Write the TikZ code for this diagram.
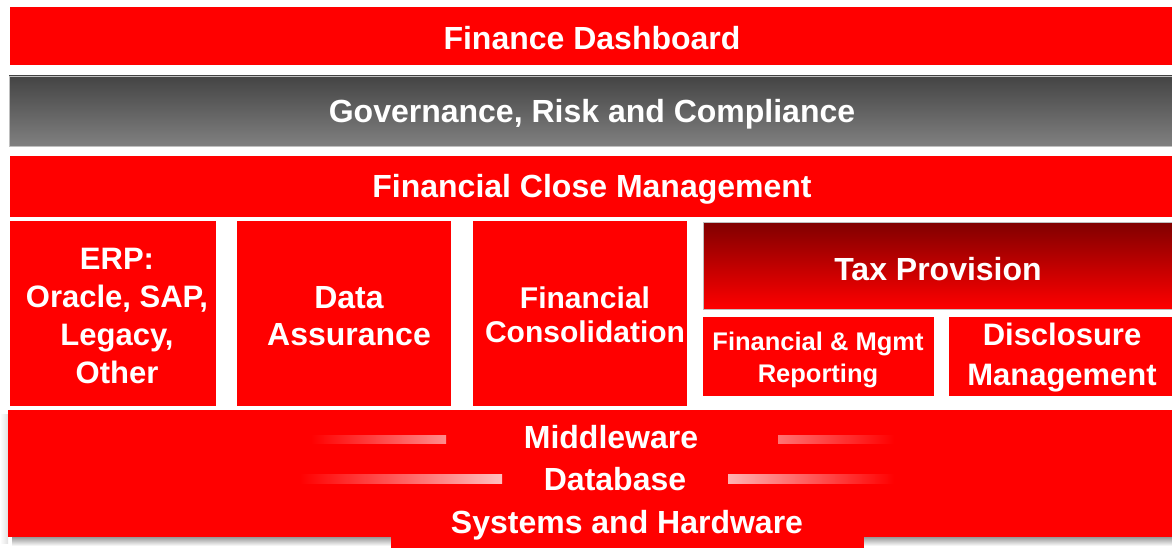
\documentclass[tikz,border=0pt]{standalone}
\usepackage{fontspec}
\setmainfont{Liberation Sans}
\definecolor{darkred}{RGB}{128,0,0}
\definecolor{midred}{RGB}{205,0,0}
\definecolor{grctop}{RGB}{68,68,68}
\definecolor{grcbot}{RGB}{128,128,128}
\tikzset{
  label/.style={font=\fontsize{32}{37}\selectfont\bfseries, text=white, align=center, inner sep=0pt},
  smalllabel/.style={label, font=\fontsize{25.5}{32}\selectfont\bfseries},
  bar/.style={fill=red}
}
\begin{document}
\begin{tikzpicture}[x=1pt,y=-1pt]
    \useasboundingbox (0,0) rectangle (1172,548);
    % top bands
    \fill[bar] (10,7) rectangle (1172,65);
    \shade[top color=grctop, bottom color=grcbot, draw=gray!50] (9,76) rectangle (1172,146);
    \fill[bar] (10,156) rectangle (1172,217);

    % middle row
    \fill[bar] (10,221) rectangle (216,406);
    \fill[bar] (237,221) rectangle (451,406);
    \fill[bar] (473,221) rectangle (687,406);
    \shade[top color=darkred, middle color=midred, bottom color=red, draw=gray!50] (703,222) rectangle (1172,309);
    \fill[bar] (703,317) rectangle (934,396);
    \fill[bar] (949,317) rectangle (1172,396);

    % bottom block with shadow
    \shade[left color=white, right color=black!12] (0,414) rectangle (8,543);
    \shade[top color=black!40, bottom color=white] (12,537) rectangle (1172,546);
    \fill[bar] (8,410) rectangle (1172,537);
    \fill[bar] (391,537) rectangle (864,548);
    \shade[left color=red, right color=red!45!white] (311,435) rectangle (446,443);
    \shade[left color=red!55!white, right color=red] (778,435) rectangle (894,443);
    \shade[left color=red, right color=red!25!white] (300,474) rectangle (502,483);
    \shade[left color=red!30!white, right color=red] (728,474) rectangle (894,483);

    % labels
    \node[label] (dash) at (592,38) {Finance Dashboard};
    \node[label] (grc) at (592,114) {Governance, Risk and Compliance};
    \node[label] (fcm) at (592,189) {Financial Close Management};
    \node[label, font=\fontsize{31}{38}\selectfont\bfseries] (erp) at (117,316) {ERP:\\Oracle, SAP,\\Legacy,\\Other};
    \node[label] (assure) at (349,316) {Data\\Assurance};
    \node[label, font=\fontsize{30}{34}\selectfont\bfseries] (consol) at (585,315) {Financial\\Consolidation};
    \node[label] (tax) at (938,269) {Tax Provision};
    \node[smalllabel] (report) at (818,360) {Financial \& Mgmt\\Reporting};
    \node[label, font=\fontsize{31}{40}\selectfont\bfseries] (disclose) at (1062,358) {Disclosure\\Management};
    \node[label] (middle) at (611,437) {Middleware};
    \node[label] (dbase) at (615,479) {Database};
    \node[label] (hw) at (627,525) {Systems and Hardware};
\end{tikzpicture}
\end{document}
